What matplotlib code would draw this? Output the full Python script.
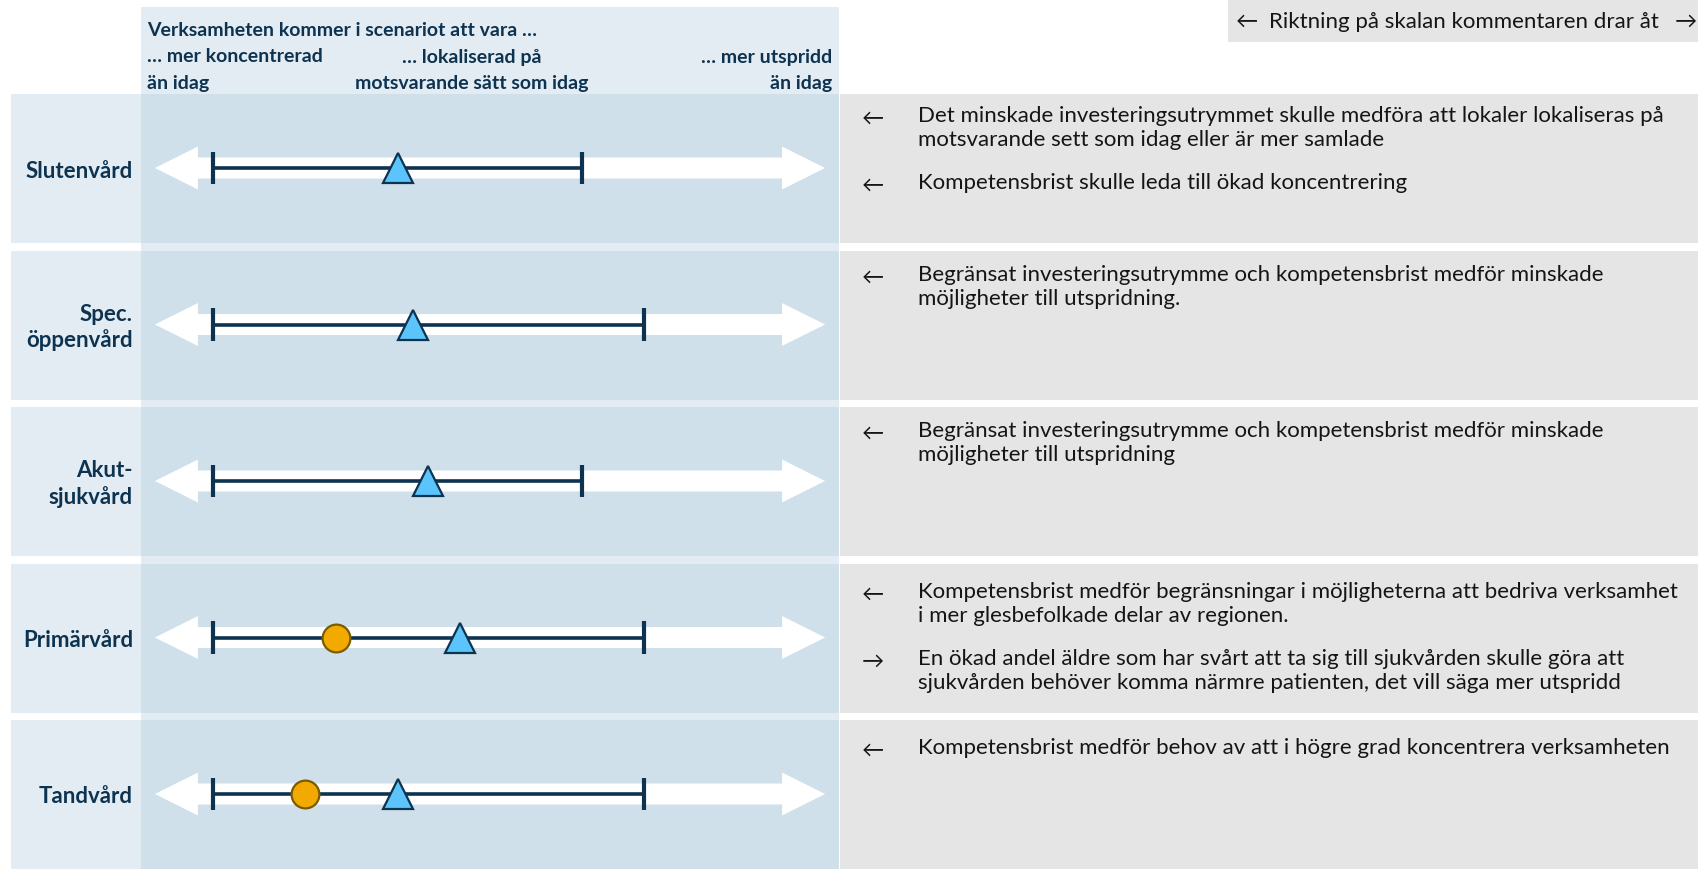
import numpy as np
import matplotlib
matplotlib.use("Agg")
import matplotlib.pyplot as plt
from matplotlib.patches import Rectangle

plt.rcParams['font.family'] = ['Lato', 'DejaVu Sans']

# --- data (scale 1-7, 4 = as today) ---
omraden = ["Slutenvård", "Spec.\nöppenvård", "Akut-\nsjukvård", "Primärvård", "Tandvård"]
min_varde = [1, 1, 1, 1, 1]
max_varde = [5, 5.67, 5, 5.67, 5.67]
triangel = [3.0, 3.17, 3.33, 3.67, 3.0]
cirkel = [np.nan, np.nan, np.nan, 2.33, 2.0]

kommentarer = [
    [("←", "Det minskade investeringsutrymmet skulle medföra att lokaler lokaliseras på\nmotsvarande sett som idag eller är mer samlade"),
     ("←", "Kompetensbrist skulle leda till ökad koncentrering")],
    [("←", "Begränsat investeringsutrymme och kompetensbrist medför minskade\nmöjligheter till utspridning.")],
    [("←", "Begränsat investeringsutrymme och kompetensbrist medför minskade\nmöjligheter till utspridning")],
    [("←", "Kompetensbrist medför begränsningar i möjligheterna att bedriva verksamhet\ni mer glesbefolkade delar av regionen."),
     ("→", "En ökad andel äldre som har svårt att ta sig till sjukvården skulle göra att\nsjukvården behöver komma närmre patienten, det vill säga mer utspridd")],
    [("←", "Kompetensbrist medför behov av att i högre grad koncentrera verksamheten")],
]

rubrik = "Verksamheten kommer i scenariot att vara …"
skala_rad1 = ["… mer koncentrerad", "… lokaliserad på", "… mer utspridd"]
skala_rad2 = ["än idag", "motsvarande sätt som idag", "än idag"]
legend_text = "Riktning på skalan kommentaren drar åt"

# colours
navy = "#0d3350"
ljusbla = "#e3ecf3"
morkbla = "#cfe0ea"
gra = "#e5e5e5"
tri_farg = "#5bc4fa"
cirk_farg = "#f2a900"
cirk_kant = "#7a5c00"
textfarg = "#151515"

# layout in pixels
W, H = 1698, 870
row_top0, row_h, pitch = 95, 149, 156.5
col_x0, col_x1 = 141, 839
first_line = [21, 23.5, 23, 27.5, 27]

fig = plt.figure(figsize=(W / 100, H / 100), dpi=100)
bg = fig.add_axes([0, 0, 1, 1])
bg.set_xlim(0, W)
bg.set_ylim(H, 0)
bg.axis("off")

# column background (header + gaps)
bg.add_patch(Rectangle((col_x0, 8), col_x1 - col_x0, H - 8, color=ljusbla, lw=0))
# legend box
bg.add_patch(Rectangle((1228, 0), W - 1228, 43, color=gra, lw=0))
bg.text(1236, 22, "←", fontsize=16, va="center", ha="left", color=textfarg)
bg.text(1269, 22, legend_text, fontsize=16, va="center", ha="left", color=textfarg)
bg.text(1675, 22, "→", fontsize=16, va="center", ha="left", color=textfarg)

# header
bg.text(147, 30, rubrik, fontsize=14, fontweight="bold", color=navy, va="center", ha="left")
for x, r1, r2, ha in zip([147, 472, 832], skala_rad1, skala_rad2, ["left", "center", "right"]):
    bg.text(x, 57, r1, fontsize=14, fontweight="bold", color=navy, va="center", ha=ha)
    bg.text(x, 84, r2, fontsize=14, fontweight="bold", color=navy, va="center", ha=ha)

for i, namn in enumerate(omraden):
    top = row_top0 + i * pitch
    bg.add_patch(Rectangle((11, top), col_x0 - 11, row_h, color=ljusbla, lw=0))
    bg.add_patch(Rectangle((col_x0, top), col_x1 - col_x0, row_h, color=morkbla, lw=0))
    bg.add_patch(Rectangle((col_x1 + 1, top), W - col_x1, row_h, color=gra, lw=0))
    bg.text(133, top + 76, namn, fontsize=16, fontweight="bold", color=navy,
            ha="right", va="center", multialignment="right", linespacing=1.26)
    y = top + first_line[i]
    for pil, txt in kommentarer[i]:
        bg.text(862, y + 3, pil, fontsize=16, color=textfarg, va="center", ha="left")
        bg.text(918, y - 10, txt, fontsize=16, color=textfarg, va="top", ha="left",
                linespacing=1.27)
        y += 25 * (txt.count("\n") + 1) + 17

# data axes over the column
ax = fig.add_axes([col_x0 / W, 0, (col_x1 - col_x0) / W, 1])
ax.set_xlim(0.22, 7.78)
ax.set_ylim((H - row_top0 - 74) / pitch, -(row_top0 + 74) / pitch)
ax.axis("off")
ax.patch.set_alpha(0)

rader = np.arange(len(omraden))
spets = 3.63   # arrow reach from the middle of the scale
hl, hh, sh = 0.466, 0.137, 0.067
mitt = 4
for yc in rader:
    xs = [mitt - spets, mitt - spets + hl, mitt - spets + hl, mitt + spets - hl, mitt + spets - hl,
          mitt + spets, mitt + spets - hl, mitt + spets - hl, mitt - spets + hl, mitt - spets + hl]
    ys = [yc, yc - hh, yc - sh, yc - sh, yc - hh, yc, yc + hh, yc + sh, yc + sh, yc + hh]
    ax.fill(xs, ys, color="white", lw=0, zorder=1)

ax.hlines(rader, min_varde, max_varde, color=navy, lw=2.6, zorder=2)
ax.vlines(min_varde, rader - 0.105, rader + 0.105, color=navy, lw=3, zorder=2)
ax.vlines(max_varde, rader - 0.105, rader + 0.105, color=navy, lw=3, zorder=2)
ax.plot(cirkel, rader, "o", ms=20, mfc=cirk_farg, mec=cirk_kant, mew=1.6, zorder=3)
ax.plot(triangel, rader, "^", ms=21, mfc=tri_farg, mec=navy, mew=1.6, zorder=4)

fig.savefig("out.png", dpi=100, facecolor="white")
